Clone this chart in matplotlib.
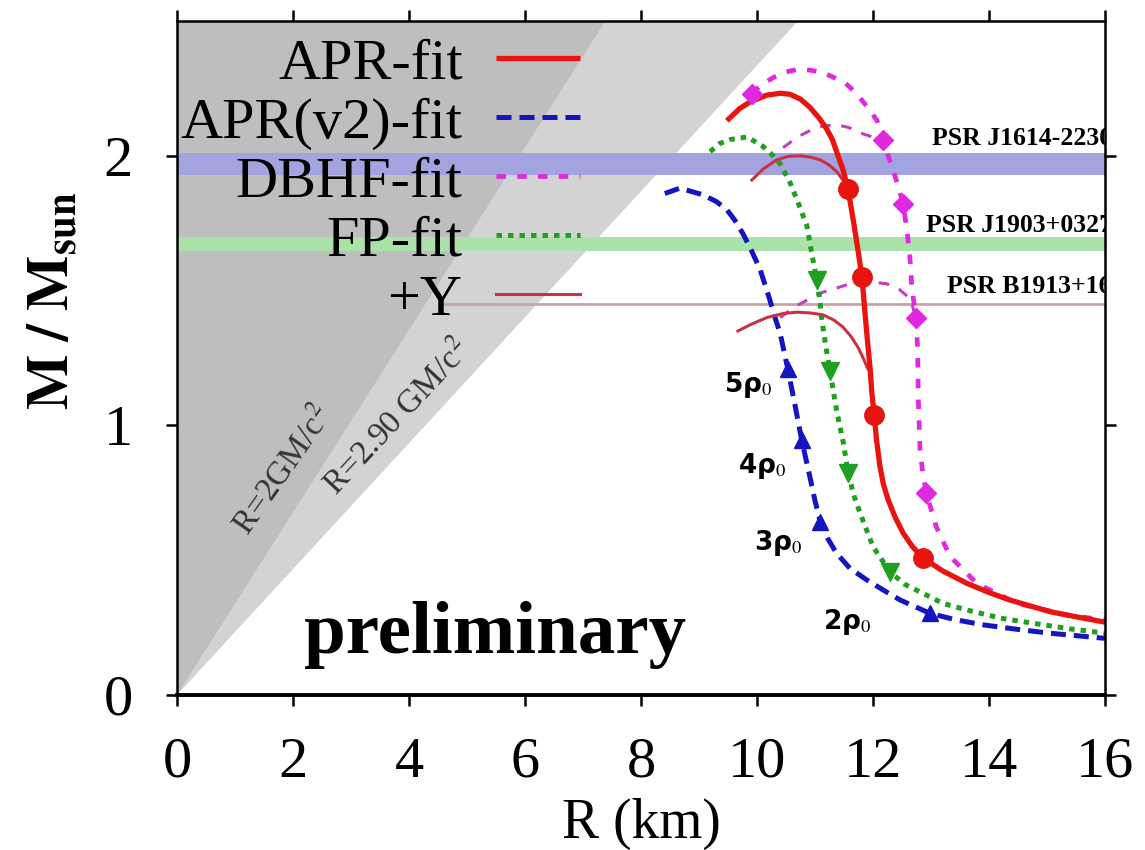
import matplotlib
matplotlib.use("Agg")
import matplotlib.pyplot as plt

plt.rcParams['font.family'] = ['Liberation Serif', 'DejaVu Sans']
plt.rcParams['mathtext.fontset'] = 'stix'

# ---------------- data ----------------
GM_C2_KM = 1.4766          # GM_sun/c^2 in km
limit_coeffs = [2.0, 2.90]  # R = k GM/c^2

band_j1614 = (1.93, 2.01)
band_j1903 = (1.648, 1.70)
line_b1913 = 1.451

apr_R = [9.48, 9.70, 9.88, 10.17, 10.40, 10.57, 10.75, 10.91, 11.07, 11.20, 11.30, 11.38, 11.48, 11.57,
         11.66, 11.74, 11.81, 11.86, 11.91, 11.95, 11.98, 12.02, 12.06, 12.12, 12.18, 12.26, 12.38,
         12.52, 12.68, 12.87, 13.20, 13.62, 14.00, 14.36, 15.05, 15.50, 16.00]
apr_M = [2.13, 2.175, 2.20, 2.225, 2.232, 2.228, 2.21, 2.18, 2.14, 2.10, 2.06, 2.01, 1.95, 1.875,
         1.76, 1.65, 1.55, 1.42, 1.30, 1.21, 1.12, 1.04, 0.946, 0.847, 0.78, 0.724, 0.66,
         0.60, 0.55, 0.507, 0.46, 0.414, 0.38, 0.352, 0.309, 0.29, 0.27]
apr_mark_R = [11.57, 11.81, 12.02, 12.87]
apr_mark_M = [1.875, 1.55, 1.04, 0.507]

aprv2_R = [8.41, 8.67, 9.07, 9.30, 9.48, 9.62, 9.76, 9.90, 10.05, 10.14, 10.22, 10.31, 10.40, 10.53,
           10.65, 10.77, 10.91, 11.00, 11.09, 11.22, 11.37, 11.60, 11.89, 12.17, 12.47, 12.98, 13.40,
           13.90, 14.50, 15.05, 16.00]
aprv2_M = [1.86, 1.88, 1.855, 1.83, 1.80, 1.76, 1.71, 1.65, 1.58, 1.52, 1.466, 1.40, 1.34, 1.21,
           1.08, 0.946, 0.81, 0.72, 0.643, 0.58, 0.526, 0.47, 0.427, 0.39, 0.352, 0.303, 0.28,
           0.26, 0.243, 0.229, 0.21]
aprv2_mark_R = [10.53, 10.77, 11.09, 12.98]
aprv2_mark_M = [1.21, 0.946, 0.643, 0.303]

fp_R = [9.19, 9.35, 9.53, 9.83, 10.10, 10.28, 10.40, 10.57, 10.71, 10.86, 10.95, 11.03, 11.08, 11.11,
        11.18, 11.26, 11.37, 11.49, 11.57, 11.67, 11.78, 12.00, 12.29, 12.55, 12.87, 13.20, 13.62,
        14.20, 14.76, 15.40, 16.00]
fp_M = [2.015, 2.045, 2.06, 2.07, 2.035, 2.00, 1.97, 1.90, 1.825, 1.74, 1.63, 1.54, 1.47, 1.404,
        1.30, 1.20, 1.057, 0.934, 0.822, 0.74, 0.673, 0.55, 0.457, 0.41, 0.376, 0.34, 0.315,
        0.285, 0.266, 0.245, 0.229]
fp_mark_R = [11.03, 11.26, 11.57, 12.29]
fp_mark_M = [1.54, 1.20, 0.822, 0.457]

dbhf_R = [9.91, 10.08, 10.28, 10.48, 10.69, 10.90, 11.12, 11.33, 11.52, 11.70, 11.83, 11.96, 12.07,
          12.17, 12.26, 12.34, 12.43, 12.52, 12.58, 12.63, 12.67, 12.74, 12.77, 12.78, 12.81, 12.86,
          12.92, 13.09, 13.33, 13.79, 14.48, 15.34, 16.00]
dbhf_M = [2.23, 2.265, 2.29, 2.31, 2.32, 2.318, 2.31, 2.29, 2.27, 2.235, 2.20, 2.165, 2.13,
          2.06, 2.00, 1.95, 1.89, 1.82, 1.73, 1.64, 1.51, 1.40, 1.28, 1.10, 0.91, 0.82,
          0.748, 0.624, 0.513, 0.414, 0.34, 0.297, 0.278]
dbhf_mark_R = [9.91, 12.17, 12.52, 12.74, 12.92]
dbhf_mark_M = [2.23, 2.06, 1.82, 1.40, 0.748]

aprY_up_R = [9.91, 10.10, 10.34, 10.54, 10.74, 10.92, 11.09, 11.25, 11.38, 11.48, 11.57]
aprY_up_M = [1.91, 1.95, 1.985, 1.998, 2.00, 1.995, 1.985, 1.965, 1.94, 1.91, 1.875]
aprY_lo_R = [9.67, 9.90, 10.17, 10.45, 10.69, 10.92, 11.14, 11.33, 11.48, 11.62, 11.74, 11.83, 11.91]
aprY_lo_M = [1.35, 1.375, 1.40, 1.415, 1.42, 1.417, 1.41, 1.39, 1.365, 1.33, 1.29, 1.25, 1.21]
dbhfY_up_R = [10.45, 10.70, 10.97, 11.18, 11.38, 11.58, 11.78, 11.98, 12.17]
dbhfY_up_M = [2.03, 2.07, 2.10, 2.112, 2.115, 2.105, 2.085, 2.07, 2.06]
dbhfY_lo_R = [10.40, 10.65, 10.91, 11.15, 11.38, 11.60, 11.85, 12.05, 12.24, 12.45, 12.64, 12.74]
dbhfY_lo_M = [1.40, 1.44, 1.47, 1.495, 1.51, 1.525, 1.532, 1.53, 1.525, 1.505, 1.47, 1.40]

rho_labels = ["5ρ$_0$", "4ρ$_0$", "3ρ$_0$", "2ρ$_0$"]
rho_R = [9.85, 10.09, 10.36, 11.55]
rho_M = [1.15, 0.85, 0.564, 0.27]

psr_labels = ["PSR J1614-2230", "PSR J1903+0327", "PSR B1913+16"]
psr_M = [2.063, 1.74, 1.514]

legend_labels = ["APR-fit", "APR(v2)-fit", "DBHF-fit", "FP-fit", "+Y"]

xlim = (0, 16)
ylim = (0, 2.5)
xticks = [0, 2, 4, 6, 8, 10, 12, 14, 16]
yticks = [0, 1, 2]

# ---------------- figure ----------------
fig = plt.figure(figsize=(11.45, 8.5), dpi=100)
ax = fig.add_axes([0.1546, 0.1824, 0.8105, 0.7929])
ax.set_xlim(*xlim)
ax.set_ylim(*ylim)

# causality / Schwarzschild limits
light = limit_coeffs[1] * GM_C2_KM
dark = limit_coeffs[0] * GM_C2_KM
ax.fill([0, light * ylim[1], 0], [0, ylim[1], ylim[1]], color='#d3d3d3', lw=0, zorder=0)
ax.fill([0, dark * ylim[1], 0], [0, ylim[1], ylim[1]], color='#bebebe', lw=0, zorder=0.5)
ax.text(1.83, 0.835, r'R=2GM/c$^2$', rotation=55, rotation_mode='anchor', ha='center', va='center',
        fontsize=24, color='#333333', zorder=1)
ax.text(3.79, 1.03, r'R=2.90 GM/c$^2$', rotation=47, rotation_mode='anchor', ha='center', va='center',
        fontsize=24, color='#333333', zorder=1)

# pulsar bands
ax.axhspan(*band_j1614, color='#a3a3e0', lw=0, zorder=2)
ax.axhspan(*band_j1903, color='#aae2aa', lw=0, zorder=2)
ax.plot([4.6, 16], [line_b1913, line_b1913], color='#c9a3a3', lw=2, zorder=2)
for lab, m in zip(psr_labels, psr_M):
    ax.text(16.12, m, lab, ha='right', va='center', fontsize=18.5, fontweight='bold', clip_on=True, zorder=3)

# curves
red = '#e8140f'
blue = '#1414c0'
green = '#20a020'
mag = '#e028e0'
thinred = '#c83246'

l_apr, = ax.plot(apr_R, apr_M, color=red, lw=3.8, zorder=6, solid_capstyle='butt')
l_v2, = ax.plot(aprv2_R, aprv2_M, color=blue, lw=3.6, ls=(0, (3.0, 1.6)), zorder=5)
l_dbhf, = ax.plot(dbhf_R, dbhf_M, color=mag, lw=3.4, ls=(0, (2.0, 2.4)), zorder=5)
l_fp, = ax.plot(fp_R, fp_M, color=green, lw=3.6, ls=(0, (1.1, 1.2)), zorder=5)
l_y, = ax.plot(aprY_up_R, aprY_up_M, color=thinred, lw=2.2, zorder=5.5)
ax.plot(aprY_lo_R, aprY_lo_M, color=thinred, lw=2.2, zorder=5.5)
ax.plot(dbhfY_up_R, dbhfY_up_M, color='#c040c0', lw=2.2, ls=(0, (3.5, 3.5)), zorder=4.5)
ax.plot(dbhfY_lo_R, dbhfY_lo_M, color='#c040c0', lw=2.2, ls=(0, (3.5, 3.5)), zorder=4.5)

ax.plot(apr_mark_R, apr_mark_M, 'o', color=red, ms=14, mec=red, zorder=7)
ax.plot(aprv2_mark_R, aprv2_mark_M, '^', color=blue, ms=12, mec=blue, zorder=7)
ax.plot(fp_mark_R, fp_mark_M, 'v', color=green, ms=13, mec=green, zorder=7)
ax.plot(dbhf_mark_R, dbhf_mark_M, 'D', color=mag, ms=10, mec=mag, zorder=7)

for lab, r, m in zip(rho_labels, rho_R, rho_M):
    ax.text(r, m, lab, ha='center', va='center', fontsize=19, family=['DejaVu Sans'],
            fontweight='bold', zorder=8)

ax.text(5.48, 0.155, 'preliminary', ha='center', va='baseline', fontsize=54, fontweight='bold', zorder=8)

# legend
leg = ax.legend([l_apr, l_v2, l_dbhf, l_fp, l_y], legend_labels, loc='upper right',
                bbox_to_anchor=(0.434, 0.975), frameon=False, markerfirst=False,
                fontsize=42, handlelength=1.43, handletextpad=0.58, labelspacing=0.105,
                borderpad=0, borderaxespad=0)
leg.set_zorder(9)

# axes styling
ax.set_xticks(xticks)
ax.set_yticks(yticks)
ax.tick_params(axis='both', which='major', direction='out', length=8, width=1.8,
               labelsize=42, top=True, right=True)
ax.tick_params(axis='x', pad=22)
ax.tick_params(axis='y', pad=24)
for s in ax.spines.values():
    s.set_linewidth(1.8)
    s.set_zorder(10)
ax.spines['bottom'].set_linewidth(2.8)

ax.set_xlabel('R (km)', fontsize=40, labelpad=0)
ax.set_ylabel(r'$\mathbf{M\ /\ M_{sun}}$', fontsize=42)
ax.yaxis.set_label_coords(-0.105, 0.585)
ax.xaxis.set_label_coords(0.5, -0.152)

fig.savefig('out.png', dpi=100)
